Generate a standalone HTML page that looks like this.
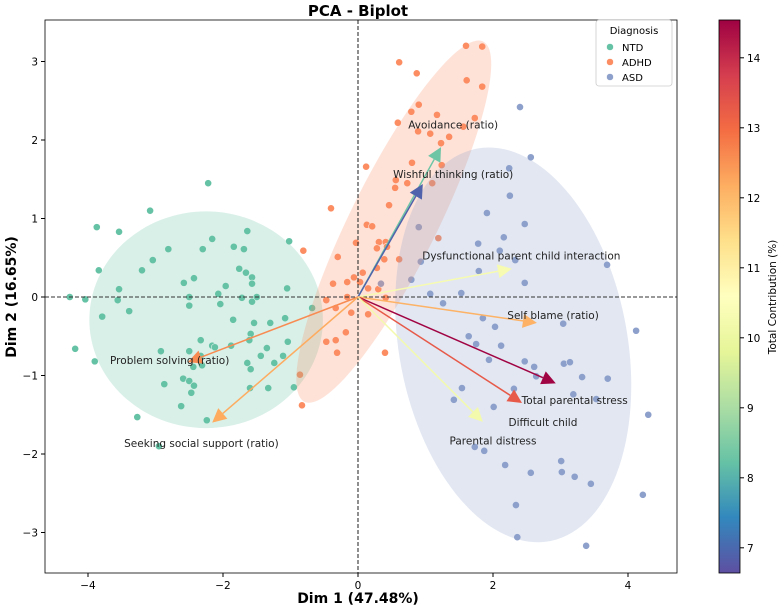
<!DOCTYPE html>
<html><head><meta charset="utf-8"><style>
body{margin:0;background:#fff;}
svg text{font-family:"DejaVu Sans","Liberation Sans",sans-serif;}
</style></head><body>
<svg id="chart" width="779" height="607" viewBox="0 0 779 607" xmlns="http://www.w3.org/2000/svg">
<defs>
<linearGradient id="cbgrad" x1="0" y1="1" x2="0" y2="0">
<stop offset="0" stop-color="#5e4fa2"/><stop offset="0.1" stop-color="#3288bd"/><stop offset="0.2" stop-color="#66c2a5"/><stop offset="0.3" stop-color="#abdda4"/><stop offset="0.4" stop-color="#e6f598"/><stop offset="0.5" stop-color="#ffffbf"/><stop offset="0.6" stop-color="#fee08b"/><stop offset="0.7" stop-color="#fdae61"/><stop offset="0.8" stop-color="#f46d43"/><stop offset="0.9" stop-color="#d53e4f"/><stop offset="1" stop-color="#9e0142"/>
</linearGradient>
<clipPath id="plotclip"><rect x="45" y="20" width="632" height="553"/></clipPath>
</defs>
<text x="358" y="16" text-anchor="middle" font-size="15" font-weight="bold">PCA - Biplot</text>
<g id="plot" clip-path="url(#plotclip)"></g>
<rect x="45" y="20" width="632" height="553" fill="none" stroke="#000" stroke-width="0.8"/>
<g id="axes"></g>
<text x="358" y="603" text-anchor="middle" font-size="14" font-weight="bold">Dim 1 (47.48%)</text>
<text transform="translate(16,297) rotate(-90)" text-anchor="middle" font-size="14" font-weight="bold">Dim 2 (16.65%)</text>
<g>
<rect x="596" y="20" width="76" height="66" rx="3" fill="#fff" fill-opacity="0.85" stroke="#ccc" stroke-width="0.8"/>
<text x="634" y="34" text-anchor="middle" font-size="10">Diagnosis</text>
<g><circle cx="610" cy="47" r="3.5" fill="#66c2a5" stroke="#fff" stroke-width="0.5"/><text x="622" y="51" font-size="10">NTD</text></g>
<g><circle cx="610" cy="62" r="3.5" fill="#fc8d62" stroke="#fff" stroke-width="0.5"/><text x="622" y="66" font-size="10">ADHD</text></g>
<g><circle cx="610" cy="77" r="3.5" fill="#8da0cb" stroke="#fff" stroke-width="0.5"/><text x="622" y="81" font-size="10">ASD</text></g>
</g>
<rect x="719" y="20" width="21" height="553" fill="url(#cbgrad)" stroke="#000" stroke-width="0.8"/>
<g id="cbticks"></g>
<text transform="translate(776,297) rotate(-90)" text-anchor="middle" font-size="10.5">Total Contribution (%)</text>
</svg>
<script>
const xTicks=[-4,-2,0,2,4];
const yTicks=[-3,-2,-1,0,1,2,3];
const cbTicks=[7,8,9,10,11,12,13,14];
const ntdX=[-2.22,-3.08,-3.87,-3.54,-1.64,-2.16,-1.02,-2.81,-2.30,-1.84,-1.69,-3.04,-3.84,-3.20,-1.76,-1.66,-1.57,-2.43,-2.58,-1.57,-1.96,-3.54,-1.05,-4.27,-4.04,-3.56,-2.50,-2.07,-1.72,-1.50,-2.50,-2.04,-1.57,-3.39,-3.79,-0.68,-1.85,-1.08,-1.54,-1.30,-1.59,-1.61,-1.04,-2.33,-2.16,-2.12,-1.88,-1.35,-4.19,-2.92,-2.50,-2.33,-1.44,-1.11,-3.90,-2.31,-1.64,-1.24,-2.44,-1.59,-2.59,-2.50,-2.87,-2.43,-1.60,-1.33,-0.95,-2.47,-2.62,-3.27,-2.24,-2.95];
const ntdY=[1.45,1.10,0.89,0.83,0.84,0.74,0.71,0.61,0.61,0.64,0.61,0.47,0.34,0.34,0.36,0.31,0.25,0.24,0.18,0.17,0.14,0.10,0.11,0,-0.03,-0.04,0,0.04,-0.01,0,-0.11,-0.09,-0.06,-0.18,-0.25,-0.14,-0.29,-0.27,-0.33,-0.33,-0.47,-0.55,-0.57,-0.55,-0.62,-0.64,-0.62,-0.65,-0.66,-0.69,-0.69,-0.75,-0.75,-0.75,-0.82,-0.87,-0.84,-0.84,-0.89,-0.92,-1.04,-1.07,-1.11,-1.13,-1.16,-1.16,-1.15,-1.22,-1.39,-1.53,-1.57,-1.90];
const adhdX=[1.60,1.84,0.61,0.87,1.61,1.84,0.90,0.79,1.17,1.73,0.59,1.56,0.89,1.07,1.35,1.23,0.80,1.24,0.12,0.56,0.73,1.10,0.55,0.46,-0.40,0.13,0.21,1.19,-0.03,0.31,0.41,-0.81,0.28,0.43,-0.30,0.39,0.61,0.28,0.07,-0.06,-0.16,0.03,-0.37,0.15,0.30,-0.16,-0.47,0.41,-0.33,-0.10,0.15,-0.18,-0.47,-0.33,-0.31,0.40,-0.86,-0.83];
const adhdY=[3.20,3.19,2.99,2.85,2.76,2.68,2.45,2.36,2.32,2.28,2.22,2.17,2.11,2.08,2.04,1.96,1.71,1.68,1.66,1.49,1.45,1.45,1.39,1.17,1.13,0.92,0.90,0.75,0.69,0.70,0.70,0.59,0.62,0.64,0.51,0.48,0.48,0.37,0.31,0.25,0.19,0.19,0.17,0.11,0.10,0,-0.04,-0.01,-0.14,-0.20,-0.22,-0.45,-0.57,-0.55,-0.71,-0.71,-0.99,-1.38];
const asdX=[2.40,2.56,2.24,2.25,1.91,2.47,2.16,1.78,2.10,2.33,3.69,0.93,1.79,0.79,2.47,1.07,1.53,1.26,1.85,3.04,2.03,4.12,1.64,1.75,2.12,1.94,2.47,2.61,2.64,3.05,3.14,3.32,3.70,1.54,2.31,3.19,1.42,4.30,2.01,3.53,1.73,1.87,2.18,2.56,3.01,3.02,3.21,3.45,4.22,2.34,2.36,3.38,0.90,0.34];
const asdY=[2.42,1.78,1.64,1.29,1.07,0.93,0.76,0.68,0.59,0.47,0.41,0.45,0.33,0.22,0.18,0.04,0.05,-0.08,-0.27,-0.34,-0.38,-0.43,-0.50,-0.60,-0.62,-0.80,-0.82,-0.89,-1.01,-0.85,-0.83,-1.02,-1.04,-1.16,-1.17,-1.24,-1.31,-1.50,-1.40,-1.30,-1.91,-1.96,-2.14,-2.24,-2.09,-2.23,-2.29,-2.38,-2.52,-2.65,-3.06,-3.17,0.89,0.17];
const varNames=["Avoidance (ratio)","Wishful thinking (ratio)","Dysfunctional parent child interaction","Self blame (ratio)","Total parental stress","Difficult child","Parental distress","Problem solving (ratio)","Seeking social support (ratio)"];
const loadX=[1.23,0.96,2.28,2.65,2.93,2.43,1.85,-2.52,-2.16];
const loadY=[1.91,1.44,0.36,-0.33,-1.10,-1.35,-1.59,-0.83,-1.60];
const contrib=[8.3,6.9,10.3,12.1,14.5,13.3,10.2,12.6,12.2];
const labelX=[1.41,1.41,2.42,2.89,3.21,2.74,2.00,-2.79,-2.32];
const labelY=[2.20,1.57,0.53,-0.23,-1.31,-1.59,-1.83,-0.80,-1.86];

const NS="http://www.w3.org/2000/svg";
const X0=358,XS=67.5,Y0=297,YS=78.5;
const sx=v=>X0+v*XS, sy=v=>Y0-v*YS;
const cbMin=6.64,cbMax=14.54;
const cby=v=>573-(v-cbMin)/(cbMax-cbMin)*553;
function mk(tag,attrs,parent){const e=document.createElementNS(NS,tag);for(const k in attrs)e.setAttribute(k,attrs[k]);parent.appendChild(e);return e;}
const stops=["#5e4fa2","#3288bd","#66c2a5","#abdda4","#e6f598","#ffffbf","#fee08b","#fdae61","#f46d43","#d53e4f","#9e0142"];
function cmap(v){let t=(v-cbMin)/(cbMax-cbMin);t=Math.max(0,Math.min(1,t))*10;const i=Math.min(9,Math.floor(t)),f=t-i;
const a=stops[i],b=stops[i+1];const c=[1,3,5].map(k=>Math.round(parseInt(a.substr(k,2),16)*(1-f)+parseInt(b.substr(k,2),16)*f));return `rgb(${c.join(',')})`;}

const plot=document.getElementById('plot');
const axes=document.getElementById('axes');
// points
function drawPts(xs,ys,col,name){const g=mk('g',{},plot);


xs.forEach((x,i)=>{const c=mk('circle',{cx:sx(x),cy:sy(ys[i]),r:3.6,fill:col,stroke:'#fff','stroke-width':0.6},g);

});}
drawPts(ntdX,ntdY,'#66c2a5','ntd');
drawPts(adhdX,adhdY,'#fc8d62','adhd');
drawPts(asdX,asdY,'#8da0cb','asd');
// ellipses in data units
const ellG=mk('g',{transform:`matrix(${XS},0,0,${-YS},${X0},${Y0})`},plot);
const ellCx=[-2.25,0.53,2.30],ellCy=[-0.29,0.96,-0.61],ellA=[1.73,2.65,2.56],ellB=[1.38,0.62,1.68],ellAng=[0,59.6,104.5];
const ellCol=['#66c2a5','#fc8d62','#8da0cb'],ellName=['ntd-ellipse','adhd-ellipse','asd-ellipse'];
ellCx.forEach((c,i)=>{const e=mk('ellipse',{cx:0,cy:0,rx:ellA[i],ry:ellB[i],transform:`translate(${c},${ellCy[i]}) rotate(${ellAng[i]})`,fill:ellCol[i],'fill-opacity':0.25},ellG);

});
// dashed zero lines
const zl=mk('line',{x1:sx(0),x2:sx(0),y1:20,y2:573,stroke:'#333','stroke-dasharray':'4,2','stroke-width':1.1},plot);


const zl2=mk('line',{x1:45,x2:677,y1:sy(0),y2:sy(0),stroke:'#333','stroke-dasharray':'4,2','stroke-width':1.1},plot);


// arrows
loadX.forEach((lx,i)=>{const col=cmap(contrib[i]);const g=mk('g',{},plot);


const x1=sx(0),y1=sy(0),x2=sx(lx),y2=sy(loadY[i]);const dx=x2-x1,dy=y2-y1,L=Math.hypot(dx,dy),ux=dx/L,uy=dy/L;
const hl=14,hw=7;const bx=x2-ux*hl,by=y2-uy*hl;
mk('line',{x1:x1,y1:y1,x2:bx,y2:by,stroke:col,'stroke-width':1.5},g);
mk('polygon',{points:`${x2},${y2} ${bx-uy*hw},${by+ux*hw} ${bx+uy*hw},${by-ux*hw}`,fill:col},g);
});
// labels
varNames.forEach((n,i)=>{const t=mk('text',{x:sx(labelX[i]),y:sy(labelY[i])+4,'text-anchor':'middle','font-size':10.5,fill:'#222'},plot);t.textContent=n;

});
// ticks
xTicks.forEach(v=>{mk('line',{x1:sx(v),x2:sx(v),y1:573,y2:577,stroke:'#000'},axes);
const t=mk('text',{x:sx(v),y:589,'text-anchor':'middle','font-size':10.5},axes);t.textContent=v<0?'\u2212'+(-v):v;

});
yTicks.forEach(v=>{mk('line',{x1:41,x2:45,y1:sy(v),y2:sy(v),stroke:'#000'},axes);
const t=mk('text',{x:38,y:sy(v)+4,'text-anchor':'end','font-size':10.5},axes);t.textContent=v<0?'\u2212'+(-v):v;

});
const cbt=document.getElementById('cbticks');
cbTicks.forEach(v=>{mk('line',{x1:740,x2:744,y1:cby(v),y2:cby(v),stroke:'#000'},cbt);
const t=mk('text',{x:747,y:cby(v)+4,'font-size':10.5},cbt);t.textContent=v;

});
</script>
</body></html>
